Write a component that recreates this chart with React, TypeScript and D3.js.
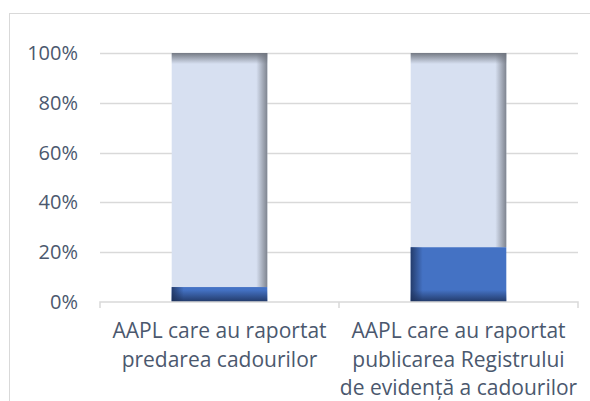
import React from 'react'
import * as d3 from 'd3'

const categories = [
  ['AAPL care au raportat', 'predarea cadourilor'],
  ['AAPL care au raportat', 'publicarea Registrului', 'de evidență a cadourilor'],
]
const reported = [6, 22]
const notReported = [94, 78]
const tickValues = [0, 20, 40, 60, 80, 100]

const W = 590
const H = 401
const margin = { left: 100, right: 12, top: 53, bottom: 99 }
const textColor = '#4b586e'
const font = '"Open Sans", sans-serif'

const App = () => {
  const x = d3
    .scaleBand<number>()
    .domain(d3.range(categories.length))
    .range([margin.left, W - margin.right])
  const y = d3
    .scaleLinear()
    .domain([0, 100])
    .range([H - margin.bottom, margin.top])

  const barW = x.bandwidth() * 0.4

  const bars = categories.map((c, i) => {
    const x0 = x(i)! + (x.bandwidth() - barW) / 2
    const x1 = x0 + barW
    const yBase = y(0)
    const yDark = y(reported[i])
    const yTop = y(reported[i] + notReported[i])
    return (
      <g key={i}>
        <defs>
          <linearGradient id={'lr' + i} gradientUnits="userSpaceOnUse" x1={x1 - 11} x2={x1} y1={0} y2={0}>
            <stop offset="0" stopColor="#6f747e" stopOpacity={0} />
            <stop offset="1" stopColor="#6f747e" stopOpacity={0.85} />
          </linearGradient>
          <linearGradient id={'lt' + i} gradientUnits="userSpaceOnUse" x1={0} x2={0} y1={yTop} y2={yTop + 11}>
            <stop offset="0" stopColor="#6f747e" stopOpacity={0.95} />
            <stop offset="1" stopColor="#6f747e" stopOpacity={0} />
          </linearGradient>
          <linearGradient id={'dl' + i} gradientUnits="userSpaceOnUse" x1={x0} x2={x0 + 12} y1={0} y2={0}>
            <stop offset="0" stopColor="#1c2f57" stopOpacity={0.8} />
            <stop offset="1" stopColor="#1c2f57" stopOpacity={0} />
          </linearGradient>
          <linearGradient id={'db' + i} gradientUnits="userSpaceOnUse" x1={0} x2={0} y1={yBase} y2={yBase - 12}>
            <stop offset="0" stopColor="#1c2f57" stopOpacity={0.85} />
            <stop offset="1" stopColor="#1c2f57" stopOpacity={0} />
          </linearGradient>
        </defs>
        {/* not reported */}
        <rect x={x0} y={yTop} width={barW} height={yDark - yTop} fill="#d7e0f1" />
        <rect x={x0} y={yTop} width={barW} height={yDark - yTop} fill={`url(#lr${i})`} />
        <rect x={x0} y={yTop} width={barW} height={yDark - yTop} fill={`url(#lt${i})`} />
        {/* reported */}
        <rect x={x0} y={yDark} width={barW} height={yBase - yDark} fill="#4472c4" />
        <rect x={x0} y={yDark} width={barW} height={yBase - yDark} fill={`url(#dl${i})`} />
        <rect x={x0} y={yDark} width={barW} height={yBase - yDark} fill={`url(#db${i})`} />
      </g>
    )
  })

  return (
    <svg width={W} height={H} style={{ position: 'absolute', left: 0, top: 0 }}>
      <rect x={9.5} y={13.5} width={W + 20} height={H + 20} fill="#fff" stroke="#d9d9d9" />
      {tickValues.map(t => (
        <g key={t}>
          {t > 0 && (
            <line x1={margin.left} x2={W - margin.right} y1={Math.round(y(t)) + 0.5} y2={Math.round(y(t)) + 0.5} stroke="#d9d9d9" strokeWidth={1.5} />
          )}
          <text x={78} y={y(t)} dy="0.35em" textAnchor="end" fill={textColor} fontFamily={font} fontSize={20}>
            {t + '%'}
          </text>
        </g>
      ))}
      {bars}
      <path
        d={
          `M${margin.left},${y(0) + 6}V${y(0)}H${W - margin.right}V${y(0) + 6}` +
          d3.range(1, categories.length).map(i => `M${x(i)},${y(0)}V${y(0) + 6}`).join('')
        }
        fill="none"
        stroke="#d9d9d9"
        strokeWidth={1.5}
      />
      {categories.map((lines, i) => (
        <text key={i} textAnchor="middle" fill={textColor} fontFamily={font} fontSize={21}>
          {lines.map((l, j) => (
            <tspan key={j} x={x(i)! + x.bandwidth() / 2} y={338 + j * 28.5}>
              {l}
            </tspan>
          ))}
        </text>
      ))}
    </svg>
  )
}

export default App
